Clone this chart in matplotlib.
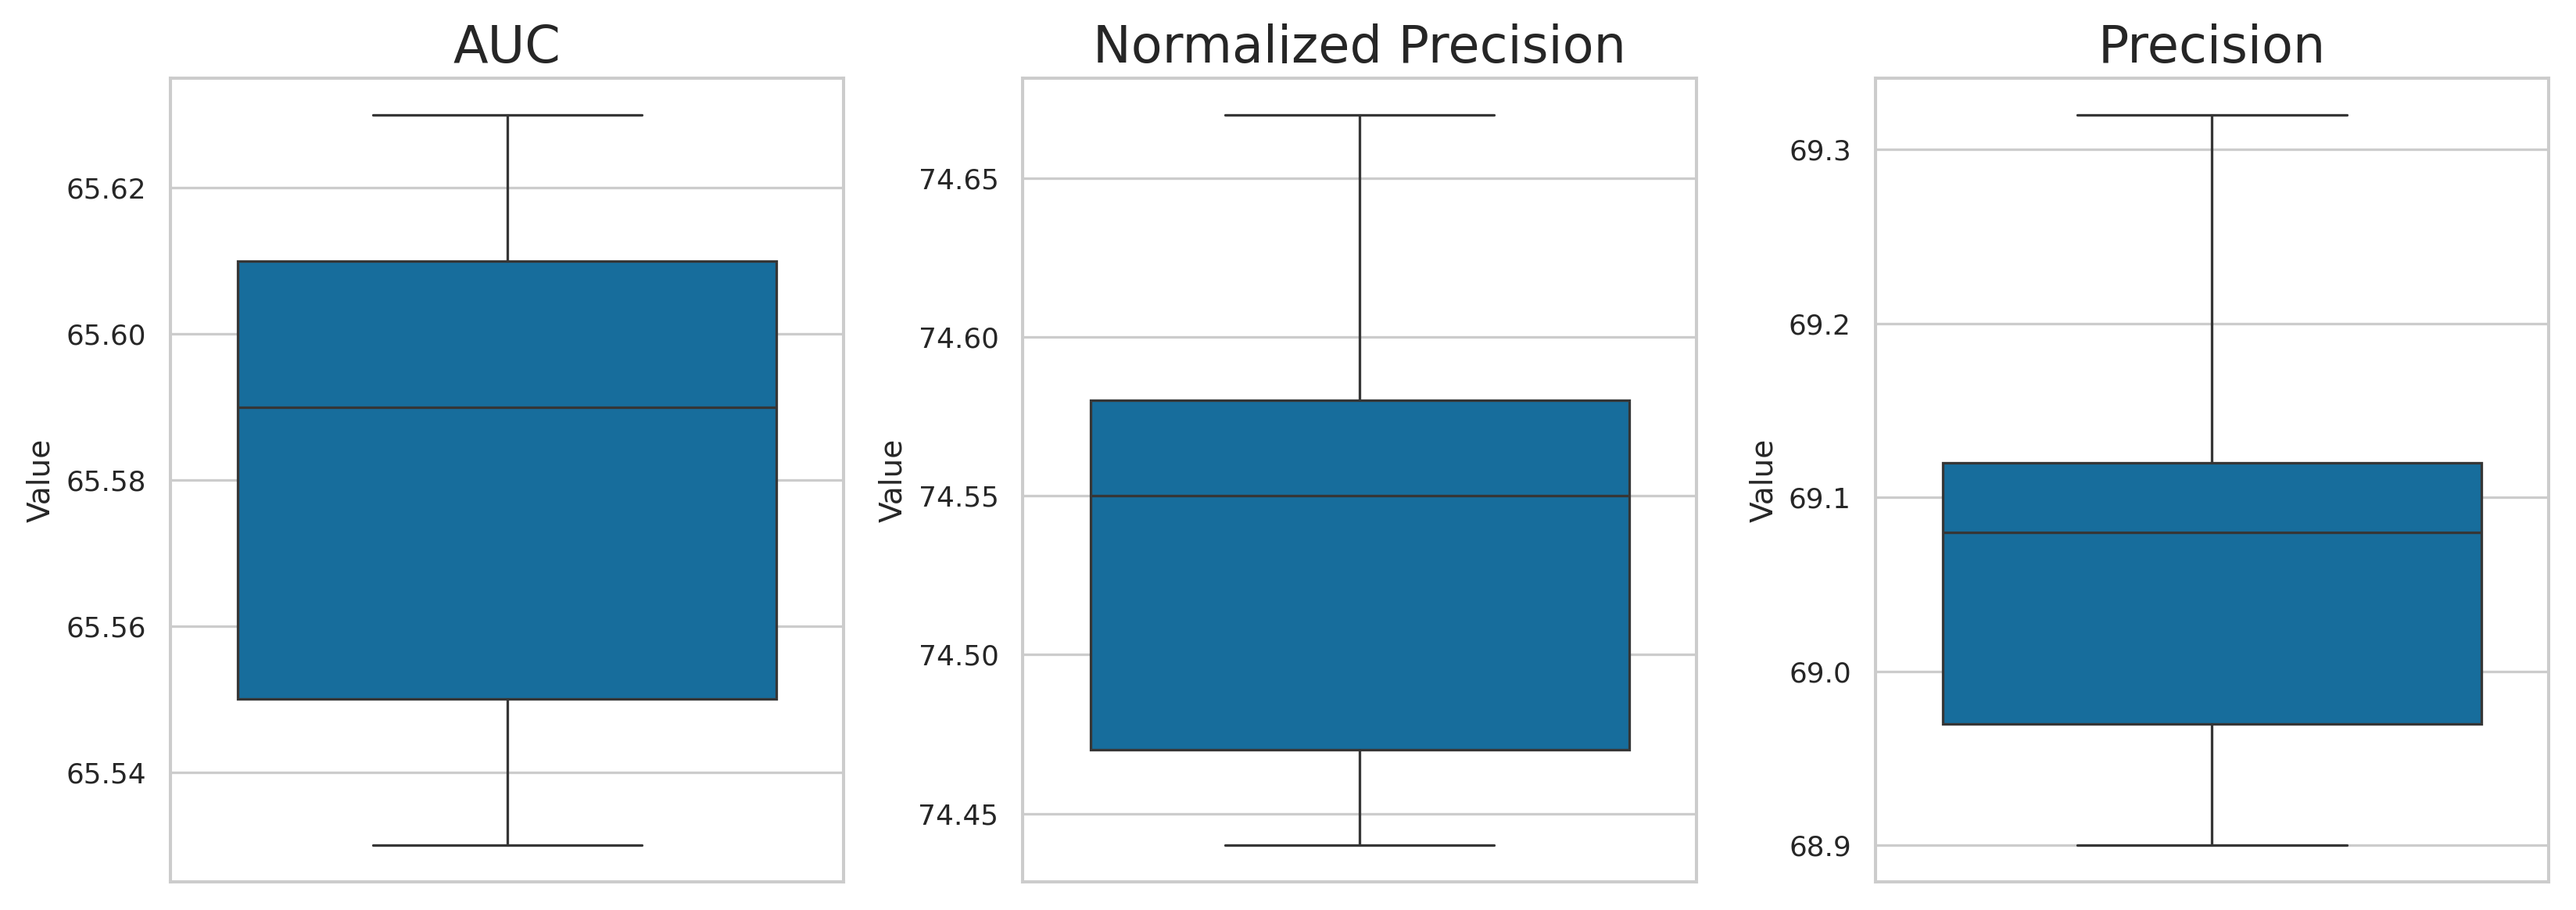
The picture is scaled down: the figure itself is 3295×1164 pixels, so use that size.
import numpy as np
import matplotlib
matplotlib.use("Agg")
import matplotlib.pyplot as plt
import seaborn as sns

# per-run scores for each metric
metrics = ["AUC", "Normalized Precision", "Precision"]
auc = [65.53, 65.55, 65.59, 65.61, 65.63]
norm_precision = [74.44, 74.47, 74.55, 74.58, 74.67]
precision = [68.90, 68.97, 69.08, 69.12, 69.32]

sns.set_theme(style="whitegrid", palette="colorblind")

DPI = 235
fig, axes = plt.subplots(1, 3, figsize=(3295 / DPI, 1164 / DPI), dpi=DPI)
plt.subplots_adjust(left=0.0662, right=0.9894, bottom=0.0309, top=0.9141, wspace=0.266)

for ax, name, vals in zip(axes, metrics, [auc, norm_precision, precision]):
    sns.boxplot(y=vals, ax=ax)
    ax.set_title(name, fontsize=20)
    ax.set_ylabel("Value")

axes[0].set_yticks([65.54, 65.56, 65.58, 65.60, 65.62])
axes[1].set_yticks([74.45, 74.50, 74.55, 74.60, 74.65])
axes[2].set_yticks([68.9, 69.0, 69.1, 69.2, 69.3])

plt.savefig("out.png", dpi=DPI)
